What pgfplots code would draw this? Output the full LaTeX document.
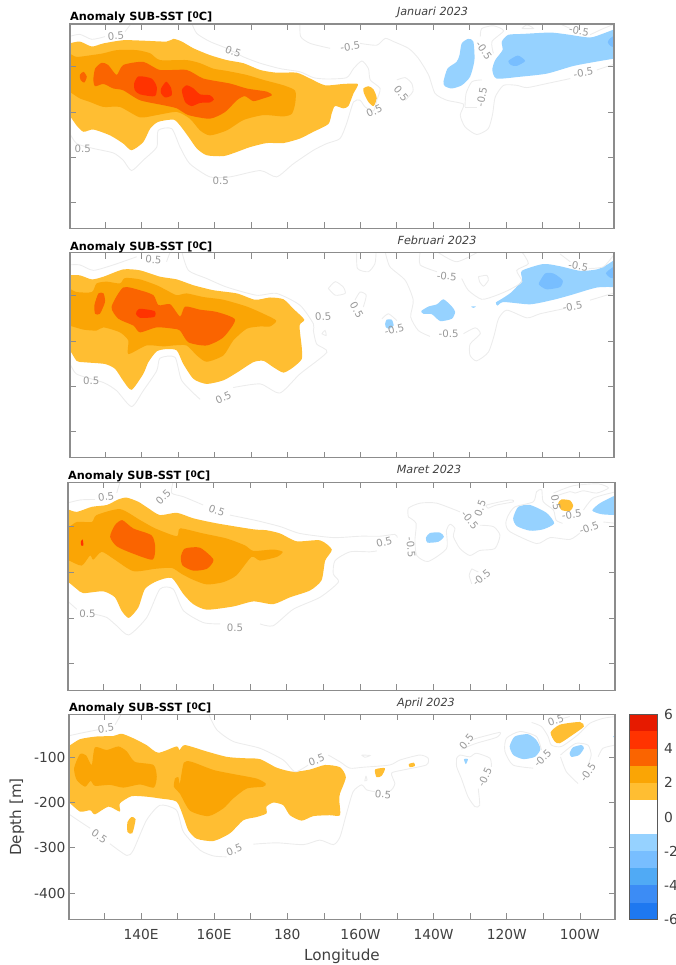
\documentclass[border=0pt]{standalone}
\usepackage{fontspec}
\setmainfont{DejaVu Sans}
\usepackage{pgfplots}
\pgfplotsset{compat=1.18}
\definecolor{p1}{HTML}{FFBE32}
\definecolor{p2}{HTML}{FAA505}
\definecolor{p3}{HTML}{FA6400}
\definecolor{p4}{HTML}{FF3300}
\definecolor{p5}{HTML}{E61A00}
\definecolor{n1}{HTML}{96D2FF}
\definecolor{n2}{HTML}{78BEFF}
\definecolor{n3}{HTML}{50AAF5}
\definecolor{n4}{HTML}{3C8CF5}
\definecolor{n5}{HTML}{1E78F0}
\definecolor{ctrc}{HTML}{ECECEC}
\definecolor{labc}{HTML}{999999}
\definecolor{axc}{HTML}{8C8C8C}
\definecolor{txt}{HTML}{404040}
\newcommand\lvl[2]{\addplot[fill=#1,draw=none,/tikz/smooth cycle,tension=0.4] coordinates {#2};}
\newcommand\ctr[1]{\addplot[ctrc,line width=0.9pt,smooth,tension=0.4] coordinates {#1};}
\newcommand\lab[4]{\node[labc,font=\fontsize{10.2}{11}\selectfont,rotate=#4,inner sep=0.5pt] at (axis cs:#1,#2) {#3};}
\pgfplotsset{panel/.style={
  scale only axis,anchor=south west,
  xmin=120.3,xmax=269.6,ymin=-458,ymax=-5,
  axis line style={draw=axc,line width=1.1pt},
  every tick/.style={draw=axc,line width=0.8pt},
  tick align=inside,major tick length=6pt,
  xtick={130,140,...,260},ytick={-400,-300,-200,-100},
  xticklabels={},yticklabels={},
  tick pos=both,
  axis on top,
}}
\begin{document}
\begin{tikzpicture}
\clip (0,0) rectangle (675pt,965pt);
% ---------- Januari
\begin{axis}[panel,at={(70pt,736.7pt)},width=544pt,height=204.3pt]
\lvl{p1}{(118,-48)(120,-48)(123,-44)(126.3,-55)(129.5,-48)(134.9,-41)(140.4,-42)(146.8,-44)(148.7,-38)(151,-44)(154.2,-59)(158.7,-74)(163.3,-85)(167.9,-92)(172.5,-107)(177,-113)(182.5,-113)(186.2,-126)(190.3,-141)(195.3,-138)(199.3,-138)(198.1,-159)(196.7,-187)(195.3,-192)(193,-187)(192.1,-204)(191.2,-227)(187.1,-244)(183.4,-259)(178.9,-269)(174.3,-269)(169.7,-278)(166,-289)(162.4,-298)(157.8,-296)(155.1,-281)(152.8,-255)(150.5,-230)(148.7,-217)(144.5,-222)(142.3,-237)(140.4,-267)(137.2,-285)(134.9,-270)(131.3,-252)(126.7,-239)(124,-244)(122.1,-230)(120,-207)(118,-207)}
\lvl{p1}{(200.8,-148)(202.2,-143)(203.6,-150)(204.5,-170)(203.6,-187)(202.2,-178)(201,-159)}
\lvl{p2}{(118,-70)(120,-70)(122.1,-78)(126.3,-74)(129.5,-70)(133.1,-63)(138.6,-63)(142.3,-70)(145,-85)(152.3,-85)(156,-92)(159.6,-104)(163.3,-109)(168.8,-118)(173.4,-129)(178.9,-141)(182.1,-153)(182.1,-181)(181.2,-204)(178.9,-210)(173.4,-207)(167.9,-218)(163.3,-241)(158.7,-252)(156,-241)(153.2,-215)(149.6,-200)(144.1,-207)(139.5,-212)(134,-189)(129.5,-189)(125.8,-178)(123,-170)(120,-155)(118,-155)}
\lvl{p3}{(126.7,-129)(127.2,-104)(129,-91)(130.8,-96)(133.1,-118)(134.9,-96)(140.4,-89)(145,-107)(152.3,-107)(156.9,-126)(164.2,-137)(168.8,-148)(174.3,-155)(175.7,-163)(173.4,-170)(170.6,-176)(168.3,-165)(166.1,-174)(162.9,-200)(158.7,-215)(152.8,-207)(149.6,-192)(145.9,-185)(139.5,-174)(134.9,-152)(132.2,-148)(129.5,-138)(127.2,-143)}
\lvl{p3}{(123,-118)(124,-111)(124.9,-122)(124.2,-135)(123.2,-129)}
\lvl{p4}{(137.9,-137)(139.1,-121)(142.7,-126)(144.1,-144)(143.6,-165)(139.5,-161)(138.1,-152)}
\lvl{p4}{(145.3,-148)(146.7,-133)(148,-146)(148.2,-163)(146.4,-168)(145.3,-159)}
\lvl{p4}{(151,-152)(152.3,-141)(154.2,-148)(156,-161)(158.7,-163)(159.8,-172)(158.7,-179)(156,-180)(153.7,-187)(151.9,-178)}
\lvl{n1}{(227.2,-74)(227.8,-48)(229.6,-38)(231,-44)(231.3,-85)(230.1,-122)(227.8,-141)(225.1,-148)(223.2,-143)(222.8,-133)(223.9,-104)(226.4,-89)}
\lvl{n1}{(238.8,-44)(240.6,-29)(244.7,-27)(252.1,-24)(256.6,-28)(263,-35)(266.7,-26)(270.4,-15)(272,-15)(272,-81)(270.4,-81)(265.8,-87)(258.5,-98)(251.2,-115)(243.8,-122)(237.4,-126)(236.2,-107)(237,-85)(239,-63)}
\lvl{n2}{(240.6,-87)(243.2,-75)(245.2,-87)(242.9,-98)(241.3,-96)}
\lvl{n2}{(270.4,-28)(268.5,-37)(267.9,-46)(268.7,-54)(270.4,-58)(272,-58)(272,-28)}
\ctr{(120,-33)(123,-28)(126.3,-39)(129.9,-33)}
\ctr{(135.4,-22)(137.2,-3)}
\ctr{(153.7,-3)(155.1,-26)(158.7,-44)(163.3,-59)(167.9,-78)(172.5,-92)(178,-104)(183.4,-111)(187.1,-124)(190.8,-127)(196.2,-124)(198.1,-104)(200.4,-87)(202.2,-104)(202.7,-129)(205.4,-148)(204.5,-174)(203.6,-198)(201.3,-189)(199.9,-174)(198.1,-178)(196.2,-226)(194.4,-259)(190.8,-270)(187.1,-285)(181.6,-315)(177,-344)(172.5,-330)(164.2,-344)(158.7,-344)(153.2,-315)(150.5,-278)(148.2,-237)(144.5,-241)(144.1,-278)(140.4,-307)(137.2,-330)(134.9,-307)(132.2,-291)(126.7,-281)(122.1,-270)(120,-244)}
\ctr{(183.4,-3)(183.6,-33)(186.2,-48)(191.7,-59)}
\ctr{(199.9,-48)(204.5,-52)(206.8,-37)(209.1,-44)(213.2,-59)(215.9,-81)(218.7,-118)(220.5,-159)(223.7,-174)(228.3,-183)(227.4,-207)(228.7,-233)(231.9,-250)(235.1,-237)(236.3,-204)(237,-167)(239.3,-141)(242.9,-141)(245.7,-146)(251.2,-137)(257.6,-126)}
\ctr{(264.9,-107)(270.4,-92)}
\ctr{(228.7,-189)(229,-159)(230.6,-133)(233.3,-129)}
\ctr{(231.9,-189)(228.7,-189)}
\ctr{(232.9,-33)(233.3,-15)(236.5,-9)(239.3,-20)(236.1,-44)(236.5,-70)}
\ctr{(244.3,-15)(245.7,-7)(247.5,-15)(244.3,-15)}
\ctr{(254.8,-5)(257.6,-15)}
\ctr{(263,-29)(266.7,-15)(269.9,-5)}
\ctr{(210,-129)(212.3,-124)(214.1,-137)(214.4,-155)(212.3,-174)}
\lab{132.9}{-31}{0.5}{5}\lab{165.1}{-66}{0.5}{-20}\lab{197.2}{-55}{-0.5}{8}\lab{233.9}{-64}{-0.5}{-55}
\lab{211.2}{-159}{0.5}{-50}\lab{203.8}{-198}{0.5}{25}\lab{233.3}{-167}{-0.5}{80}\lab{260}{-20}{-0.5}{-10}
\lab{261.2}{-113}{-0.5}{10}\lab{123.8}{-281}{0.5}{0}\lab{161.7}{-352}{0.5}{0}
\end{axis}
% ---------- Februari
\begin{axis}[panel,at={(70pt,507.3pt)},width=544pt,height=205pt]
\lvl{p1}{(118,-55)(120,-55)(123,-55)(126.3,-64)(129.5,-58)(134.9,-42)(139.5,-44)(145,-58)(149.6,-64)(154.2,-77)(159.7,-88)(166.1,-95)(171.1,-109)(175.2,-104)(178.9,-108)(181.6,-129)(184.6,-153)(183.3,-166)(183.9,-214)(183.9,-240)(181.6,-258)(178.9,-270)(176.1,-258)(173.4,-244)(170.6,-247)(166.1,-270)(162.4,-287)(157.8,-295)(154.2,-284)(151.4,-251)(149.6,-221)(146.8,-218)(144.1,-223)(141.8,-247)(140.4,-273)(137.2,-308)(134.9,-288)(132.7,-262)(129.9,-251)(124,-247)(122.1,-244)(120,-218)(118,-218)}
\lvl{p2}{(118,-84)(120,-84)(122.1,-92)(126.3,-92)(127.6,-73)(130.4,-69)(134,-73)(135.4,-61)(139.5,-64)(144.1,-77)(146.8,-88)(149.6,-99)(152.3,-95)(156.9,-103)(162.4,-109)(168.8,-124)(173.4,-140)(176.9,-155)(175.2,-168)(172.5,-168)(168.8,-173)(165.1,-199)(162.4,-232)(157.8,-246)(155.1,-232)(152.3,-210)(148.7,-210)(145.9,-212)(141.3,-210)(136.3,-229)(136.3,-199)(134,-181)(129.5,-170)(127.6,-177)(124,-175)(120,-166)(118,-166)}
\lvl{p3}{(131.7,-125)(134.9,-82)(139.5,-88)(143.2,-99)(144.6,-121)(147.8,-119)(150.5,-146)(151.9,-124)(156,-131)(160.6,-136)(165.6,-153)(162.4,-192)(157.8,-210)(152.8,-203)(150.5,-177)(148.7,-173)(144.1,-170)(139.5,-181)(137.7,-166)(133.6,-151)}
\lvl{p3}{(127,-121)(128.1,-95)(129.5,-95)(129.9,-114)(128.5,-140)(127.2,-140)}
\lvl{p4}{(138.4,-140)(139.3,-129)(143.5,-134)(143.4,-147)(139.5,-149)}
\lvl{n1}{(216.7,-134)(218.7,-124)(221,-119)(222.8,-108)(225.1,-124)(226,-136)(225.1,-151)(221.9,-156)(219.6,-141)(217.3,-140)}
\lvl{n1}{(206.8,-162)(207.2,-153)(208.6,-153)(209.1,-166)(208,-173)(207,-170)}
\lvl{n1}{(230.4,-124)(231.7,-124)(231,-127)}
\lvl{n1}{(237.2,-115)(238.8,-107)(241.5,-92)(244.3,-66)(244.3,-45)(250.2,-30)(254.8,-35)(260.3,-45)(264.9,-42)(267.6,-32)(270.4,-18)(272,-18)(272,-81)(270.4,-81)(264.9,-82)(257.6,-99)(253,-109)(246.6,-119)(239.3,-114)(237.6,-122)}
\lvl{n2}{(249,-72)(250.7,-51)(253,-51)(255.5,-66)(254.8,-81)(251.2,-86)(249.3,-78)}
\lvl{n2}{(270.4,-32)(268.1,-44)(267.4,-51)(268.5,-60)(270.4,-62)(272,-62)(272,-32)}
\ctr{(120,-32)(123,-32)(126.7,-44)(132.2,-32)(138.6,-14)}
\ctr{(146.8,-25)(147.8,-3)}
\ctr{(151,-3)(152.8,-44)(157.8,-62)(163.3,-81)(171.5,-99)(177,-95)(183.4,-121)(187.1,-162)(187.1,-177)(188,-207)(190.8,-225)(183.4,-273)(177.9,-315)(172.5,-295)(165.1,-303)}
\ctr{(156,-329)(151,-288)(149.1,-236)(145,-238)(144.1,-266)(140.4,-310)(137.2,-345)(133.1,-310)(129.5,-292)(122.1,-273)(120,-244)}
\ctr{(189.4,-184)(190.3,-177)(190.6,-188)(189.4,-184)}
\ctr{(191.2,-84)(193.1,-69)(195.3,-81)(195.8,-95)(193.1,-99)(191.2,-84)}
\ctr{(199,-3)(199.2,-40)(202.2,-47)(204,-29)(204.3,-3)}
\ctr{(198.5,-110)(199.9,-92)(201.6,-99)(200.8,-125)}
\ctr{(206.8,-3)(208.1,-36)(212.3,-66)(214.5,-110)(213.8,-147)(215.9,-177)(219.1,-190)}
\ctr{(228.3,-184)(231.5,-171)(232.9,-184)(230.1,-207)(230.1,-232)(231.9,-244)(235.1,-225)(236.7,-188)(237.9,-151)(240.2,-132)(245.7,-149)(249.3,-140)(255.7,-129)}
\ctr{(263,-110)(270.4,-92)}
\ctr{(216.4,-3)(216.4,-32)(221,-47)}
\ctr{(227.8,-62)(229.6,-88)(233.3,-108)(237.4,-99)(241.1,-86)(244.3,-69)(242.9,-44)(246.1,-29)(244.3,-3)}
\ctr{(221,-3)(226.4,-25)(232.4,-3)}
\ctr{(232.4,-58)(234.7,-55)(235.1,-66)(233.8,-79)(232.7,-69)(232.4,-58)}
\ctr{(254.8,-8)(257.6,-25)}
\ctr{(262.6,-40)(266.7,-36)(269.9,-6)}
\ctr{(205.9,-151)(207.7,-140)(210,-155)}
\lab{143.2}{-21}{0.5}{-5}\lab{126.1}{-288}{0.5}{0}\lab{162.4}{-325}{0.5}{25}\lab{189.8}{-146}{0.5}{5}
\lab{199}{-132}{0.5}{-60}\lab{209.3}{-175}{-0.5}{15}\lab{224.2}{-184}{-0.5}{0}\lab{223.7}{-57}{-0.5}{-5}
\lab{259.8}{-35}{-0.5}{-10}\lab{258.2}{-124}{-0.5}{10}
\end{axis}
% ---------- Maret
\begin{axis}[panel,at={(68pt,274.5pt)},width=547pt,height=208pt]
\lvl{p1}{(118,-63)(120,-63)(122.7,-69)(126.8,-58)(130.9,-54)(134,-42)(136.3,-38)(139.5,-47)(142.2,-61)(145.4,-76)(150,-71)(154.5,-83)(160.9,-94)(170.9,-107)(174.5,-109)(178.2,-116)(182.7,-133)(189.1,-131)(192.3,-151)(190.5,-175)(189.5,-218)(186.4,-240)(180.9,-255)(176.3,-270)(170.9,-264)(165.4,-275)(158.2,-282)(154.5,-270)(151.8,-248)(148.6,-213)(144.5,-220)(141.3,-237)(139.5,-277)(136.9,-300)(134.9,-284)(133.1,-255)(129.9,-242)(124.5,-246)(122.7,-237)(120,-220)(118,-220)}
\lvl{p1}{(254.1,-50)(255,-42)(257.3,-44)(258.2,-56)(257.3,-67)(255,-65)}
\lvl{p2}{(118,-105)(120,-105)(122.7,-91)(126.8,-91)(128.1,-76)(134.5,-63)(140,-87)(144.1,-105)(150,-122)(150.9,-105)(157.2,-116)(163.6,-127)(168.6,-142)(170.9,-154)(176.3,-151)(178.9,-156)(177.3,-167)(172.7,-175)(170.4,-167)(166.3,-207)(162.7,-222)(158.2,-227)(154.5,-217)(151.3,-204)(148.6,-191)(144.1,-193)(138.1,-198)(132.7,-171)(129.5,-156)(127.2,-173)(126.3,-164)(124,-186)(120,-173)(118,-173)}
\lvl{p3}{(131.8,-123)(133.1,-98)(135.1,-87)(138.1,-105)(143.1,-120)(144.1,-145)(143.4,-173)(138.1,-160)(133.6,-144)}
\lvl{p3}{(151.1,-167)(152.2,-149)(156.3,-147)(160,-173)(158.2,-193)(154.5,-197)(151.6,-186)}
\lvl{p4}{(123.8,-134)(124.3,-129)(124.5,-142)(123.9,-142)}
\lvl{n1}{(218,-125)(219.1,-115)(221.8,-114)(222.9,-123)(221.4,-134)(218.4,-136)}
\lvl{n1}{(241.8,-83)(243.2,-58)(246.4,-54)(250.9,-71)(253,-94)(250,-107)(246.4,-110)(242.8,-100)}
\lvl{n1}{(272,-28)(270,-32)(265.5,-50)(263.4,-66)(265.9,-74)(270,-76)(272,-76)}
\ctr{(120,-50)(123.6,-43)(127.7,-42)}
\ctr{(133.6,-28)(134.5,-3)}
\ctr{(149,-3)(148.6,-28)(151.8,-36)(157.2,-54)}
\ctr{(164.5,-76)(171.8,-88)(178.2,-101)(183.6,-116)(192.7,-125)(200,-122)(205.5,-122)(209.5,-118)(210.2,-125)}
\ctr{(204.6,-154)(202.7,-156)(197.3,-156)(193.2,-175)(192.7,-204)(194.1,-222)(189.1,-255)(181.8,-281)(176.3,-317)(172.7,-313)}
\ctr{(161.8,-313)(157.2,-310)(151.8,-284)(149,-237)(145.4,-237)(141.8,-299)(136.9,-337)(133.6,-317)(130.9,-299)(127.7,-292)}
\ctr{(122.7,-281)(120,-262)}
\ctr{(213.2,-80)(213.2,-61)(216.4,-50)(220.9,-50)(227.3,-69)}
\ctr{(232.7,-98)(236.4,-101)(238.2,-120)(236.8,-149)(232.7,-153)(230,-164)(227.3,-149)(225.5,-123)(225.9,-105)(224.6,-96)(223.6,-109)(223.6,-149)(218.6,-177)(215.5,-164)(215,-131)(215.3,-94)(213.2,-80)}
\ctr{(235,-61)(234.6,-54)(240.9,-43)(241.9,-47)(237.3,-54)(235,-61)}
\ctr{(230.5,-193)(232.3,-200)}
\ctr{(230.5,-226)(229.8,-207)(230.5,-193)}
\ctr{(260,-115)(257.3,-129)(251.9,-125)(248.2,-138)(240.9,-112)(239.8,-94)(240.5,-76)(242.3,-58)(247.3,-47)(248.2,-25)(249.6,-21)(250,-47)(252.8,-65)(253.5,-87)(255.3,-94)}
\ctr{(270,-94)(266.4,-91)}
\ctr{(252.8,-36)(257.3,-25)(258.7,-28)(261,-23)(264.6,-28)(267.8,-17)(265,-8)(258.2,-12)(252.8,-28)}
\ctr{(261,-65)(263.7,-39)(270,-25)}
\lab{130.7}{-36}{0.5}{8}\lab{146.3}{-37}{0.5}{45}\lab{160.9}{-66}{0.5}{-20}\lab{125.6}{-290}{0.5}{0}\lab{165.9}{-321}{0.5}{0}
\lab{206.6}{-135}{0.5}{15}\lab{213.9}{-146}{-0.5}{-85}\lab{230}{-87}{-0.5}{-50}\lab{232.8}{-61}{0.5}{70}\lab{233.2}{-212}{-0.5}{40}
\lab{253.5}{-49}{0.5}{-80}\lab{257.8}{-75}{-0.5}{8}\lab{262.5}{-104}{-0.5}{20}
\end{axis}
% ---------- April
\begin{axis}[panel,at={(69pt,45.7pt)},width=546pt,height=205pt,
  xticklabels={,140E,,160E,,180,,160W,,140W,,120W,,100W},
  yticklabels={-400,-300,-200,-100},
  tick pos=both,xticklabel pos=bottom,yticklabel pos=left,
  xticklabel style={font=\fontsize{13.8}{16}\selectfont,text=txt,yshift=-6pt},
  yticklabel style={font=\fontsize{13.8}{16}\selectfont,text=txt},
]
\lvl{p1}{(118,-76)(120,-76)(123.3,-60)(127.9,-54)(132.4,-53)(134.7,-48)(137.9,-58)(141.5,-73)(144.7,-90)(149.7,-76)(150.5,-84)(152,-73)(157.9,-87)(163.4,-99)(167.9,-102)(172.5,-104)(177.1,-123)(181.6,-132)(186.2,-127)(190.3,-117)(194.4,-122)(196,-144)(194.4,-180)(194.2,-195)(194.4,-228)(191.6,-228)(187.1,-230)(183.9,-240)(180.7,-228)(178.9,-206)(176.2,-200)(174.3,-209)(174.3,-224)(171.6,-232)(168,-239)(164.3,-268)(159.8,-285)(155.2,-280)(152.9,-261)(151.6,-232)(149.7,-198)(145.2,-191)(141.5,-187)(137.4,-186)(134.2,-202)(134.2,-220)(131.1,-209)(127.4,-226)(126.1,-217)(123.3,-220)(120,-198)(118,-198)}
\lvl{p1}{(136.3,-243)(137.4,-232)(138.5,-237)(137.6,-268)(136.3,-265)}
\lvl{p1}{(204,-127)(206.7,-124)(205.8,-141)(204.4,-144)}
\lvl{p1}{(213.2,-115)(214.6,-112)(214.9,-119)(213.5,-122)}
\lvl{p1}{(252,-45)(254.5,-28)(260,-22)(261.1,-32)(258.1,-50)(254.5,-69)(253.1,-65)}
\lvl{p2}{(121.7,-124)(123.3,-93)(125,-96)(126.5,-117)(127.4,-78)(130.6,-84)(133.8,-76)(136.1,-87)(138.3,-110)(143.4,-117)(144.3,-143)(143.5,-167)(139.7,-160)(135.2,-167)(131.5,-161)(127.4,-163)(126.2,-152)(124.7,-165)(122.4,-150)}
\lvl{p2}{(149.3,-147)(150.2,-144)(150.6,-158)(151.7,-112)(153.8,-110)(159.8,-128)(165.2,-137)(171.6,-147)(174.1,-158)(173.4,-165)(168.9,-169)(165.2,-191)(162.5,-213)(158.4,-230)(153.4,-218)(150.6,-180)(149,-165)}
\lvl{n1}{(240.8,-76)(242.2,-54)(245.8,-49)(248.1,-62)(249.2,-82)(247.7,-99)(244.5,-104)(241.8,-95)}
\lvl{n1}{(257.2,-91)(258.1,-78)(260.4,-73)(261.1,-80)(259.8,-95)(257.7,-99)}
\lvl{n1}{(228.3,-104)(229.4,-104)(228.8,-115)}
\lvl{n1}{(269.1,-54)(269.7,-52)(269.7,-58)}
\ctr{(120,-53)(123.3,-47)(128.3,-39)}
\ctr{(132.9,-28)(134.7,-3)}
\ctr{(158.4,-3)(160.7,-39)(165.2,-65)(172.5,-80)(178.9,-106)(182.1,-132)(185.7,-117)}
\ctr{(191.2,-95)(194.4,-110)(197.1,-124)(200.7,-122)(208,-117)(210.8,-106)(216.2,-95)(218.5,-102)(218,-117)(211.7,-128)(208.5,-135)(209.4,-158)(208.5,-172)(206.7,-180)}
\ctr{(203.9,-176)(201.7,-172)(200.3,-161)(198,-176)(196.2,-224)(194.4,-276)(192.6,-293)(188.9,-283)(184.4,-293)(177.1,-289)(170.7,-292)}
\ctr{(163.4,-320)(159.8,-318)(156.1,-305)(151.6,-265)(149.7,-217)(145.2,-206)(141.5,-239)(137.9,-305)(136.1,-317)(131.5,-291)}
\ctr{(126.1,-257)(122,-235)(120,-224)}
\ctr{(226.3,-102)(227.2,-95)(229.9,-99)(231.7,-91)(235.4,-102)(235.8,-121)}
\ctr{(232.2,-169)(232.6,-206)(231.3,-209)(229.4,-187)(227.6,-147)(226.3,-121)(226.3,-102)}
\ctr{(227.6,-82)(231.7,-69)(237.2,-56)(238.1,-45)(231.7,-58)(230.4,-62)}
\ctr{(247.2,-124)(241.7,-117)(239.5,-87)(239.9,-58)(243.6,-43)(248.1,-54)(249.5,-84)}
\ctr{(246.8,-23)(249.5,-32)(251.3,-54)(252.2,-73)(255,-76)(259.5,-50)(262.7,-25)(266.3,-14)(269.7,-10)}
\ctr{(255.4,-14)(257.2,-10)}
\ctr{(254.7,-95)(256.3,-84)(259,-69)(262.2,-73)(263.1,-95)(262.2,-117)}
\ctr{(259.5,-158)(256.3,-132)(254.7,-99)}
\ctr{(265,-99)(266.3,-80)(269.7,-73)}
\ctr{(260.4,-6)(265.4,-6)}
\ctr{(200.3,-95)(202.6,-96)(201.2,-100)(200.3,-95)}
\ctr{(201.5,-141)(201.8,-150)(201.2,-152)(201.5,-141)}
\lab{130.4}{-36}{0.5}{8}\lab{188}{-106}{0.5}{20}\lab{128.6}{-274}{0.5}{-35}\lab{165.5}{-305}{0.5}{22}
\lab{206.2}{-182}{0.5}{-5}\lab{229}{-65}{0.5}{50}\lab{234}{-144}{-0.5}{65}\lab{249.8}{-102}{-0.5}{45}
\lab{253.4}{-19}{0.5}{20}\lab{262.2}{-134}{-0.5}{55}
\end{axis}
% ---------- colour bar
\begin{axis}[scale only axis,anchor=south west,at={(629pt,45.3pt)},width=28.7pt,height=205.4pt,
  xmin=0,xmax=1,ymin=-6,ymax=6,xtick=\empty,ytick={-6,-4,-2,0,2,4,6},
  yticklabels={-6,-4,-2,0,2,4,6},yticklabel pos=right,major tick length=0pt,
  yticklabel style={font=\fontsize{13.8}{16}\selectfont,text=txt,anchor=west,xshift=3pt},
  axis line style={draw=black!65,line width=0.7pt},axis on top]
\addplot[fill=n5,draw=none] coordinates {(0,-6)(1,-6)(1,-5)(0,-5)} -- cycle;
\addplot[fill=n4,draw=none] coordinates {(0,-5)(1,-5)(1,-4)(0,-4)} -- cycle;
\addplot[fill=n3,draw=none] coordinates {(0,-4)(1,-4)(1,-3)(0,-3)} -- cycle;
\addplot[fill=n2,draw=none] coordinates {(0,-3)(1,-3)(1,-2)(0,-2)} -- cycle;
\addplot[fill=n1,draw=none] coordinates {(0,-2)(1,-2)(1,-1)(0,-1)} -- cycle;
\addplot[fill=p1,draw=none] coordinates {(0,1)(1,1)(1,2)(0,2)} -- cycle;
\addplot[fill=p2,draw=none] coordinates {(0,2)(1,2)(1,3)(0,3)} -- cycle;
\addplot[fill=p3,draw=none] coordinates {(0,3)(1,3)(1,4)(0,4)} -- cycle;
\addplot[fill=p4,draw=none] coordinates {(0,4)(1,4)(1,5)(0,5)} -- cycle;
\addplot[fill=p5,draw=none] coordinates {(0,5)(1,5)(1,6)(0,6)} -- cycle;
\end{axis}
% ---------- texts
\newcommand\ttl[2]{\node[anchor=base west,inner sep=0pt,font=\fontsize{11.3}{13}\selectfont\bfseries] at (#1pt,#2pt) {Anomaly SUB-SST [\raisebox{0.45ex}{\fontsize{9}{10}\selectfont 0}C]};}
\ttl{70}{944}
\ttl{70}{714}
\ttl{68}{485}
\ttl{69}{253}
\newcommand\rtl[3]{\node[anchor=base,inner sep=0pt,text=black!75,font=\fontsize{11.2}{13}\selectfont\itshape] at (#1pt,#2pt) {#3};}
\rtl{432.5}{949.3}{Januari 2023}
\rtl{437}{720.7}{Februari 2023}
\rtl{429}{491}{Maret 2023}
\rtl{426}{258.3}{April 2023}
\node[rotate=90,text=txt,inner sep=0pt,font=\fontsize{15.2}{18}\selectfont] at (17pt,148pt) {Depth [m]};
\node[text=txt,inner sep=0pt,font=\fontsize{15.2}{18}\selectfont] at (342pt,9pt) {Longitude};
\end{tikzpicture}
\end{document}
